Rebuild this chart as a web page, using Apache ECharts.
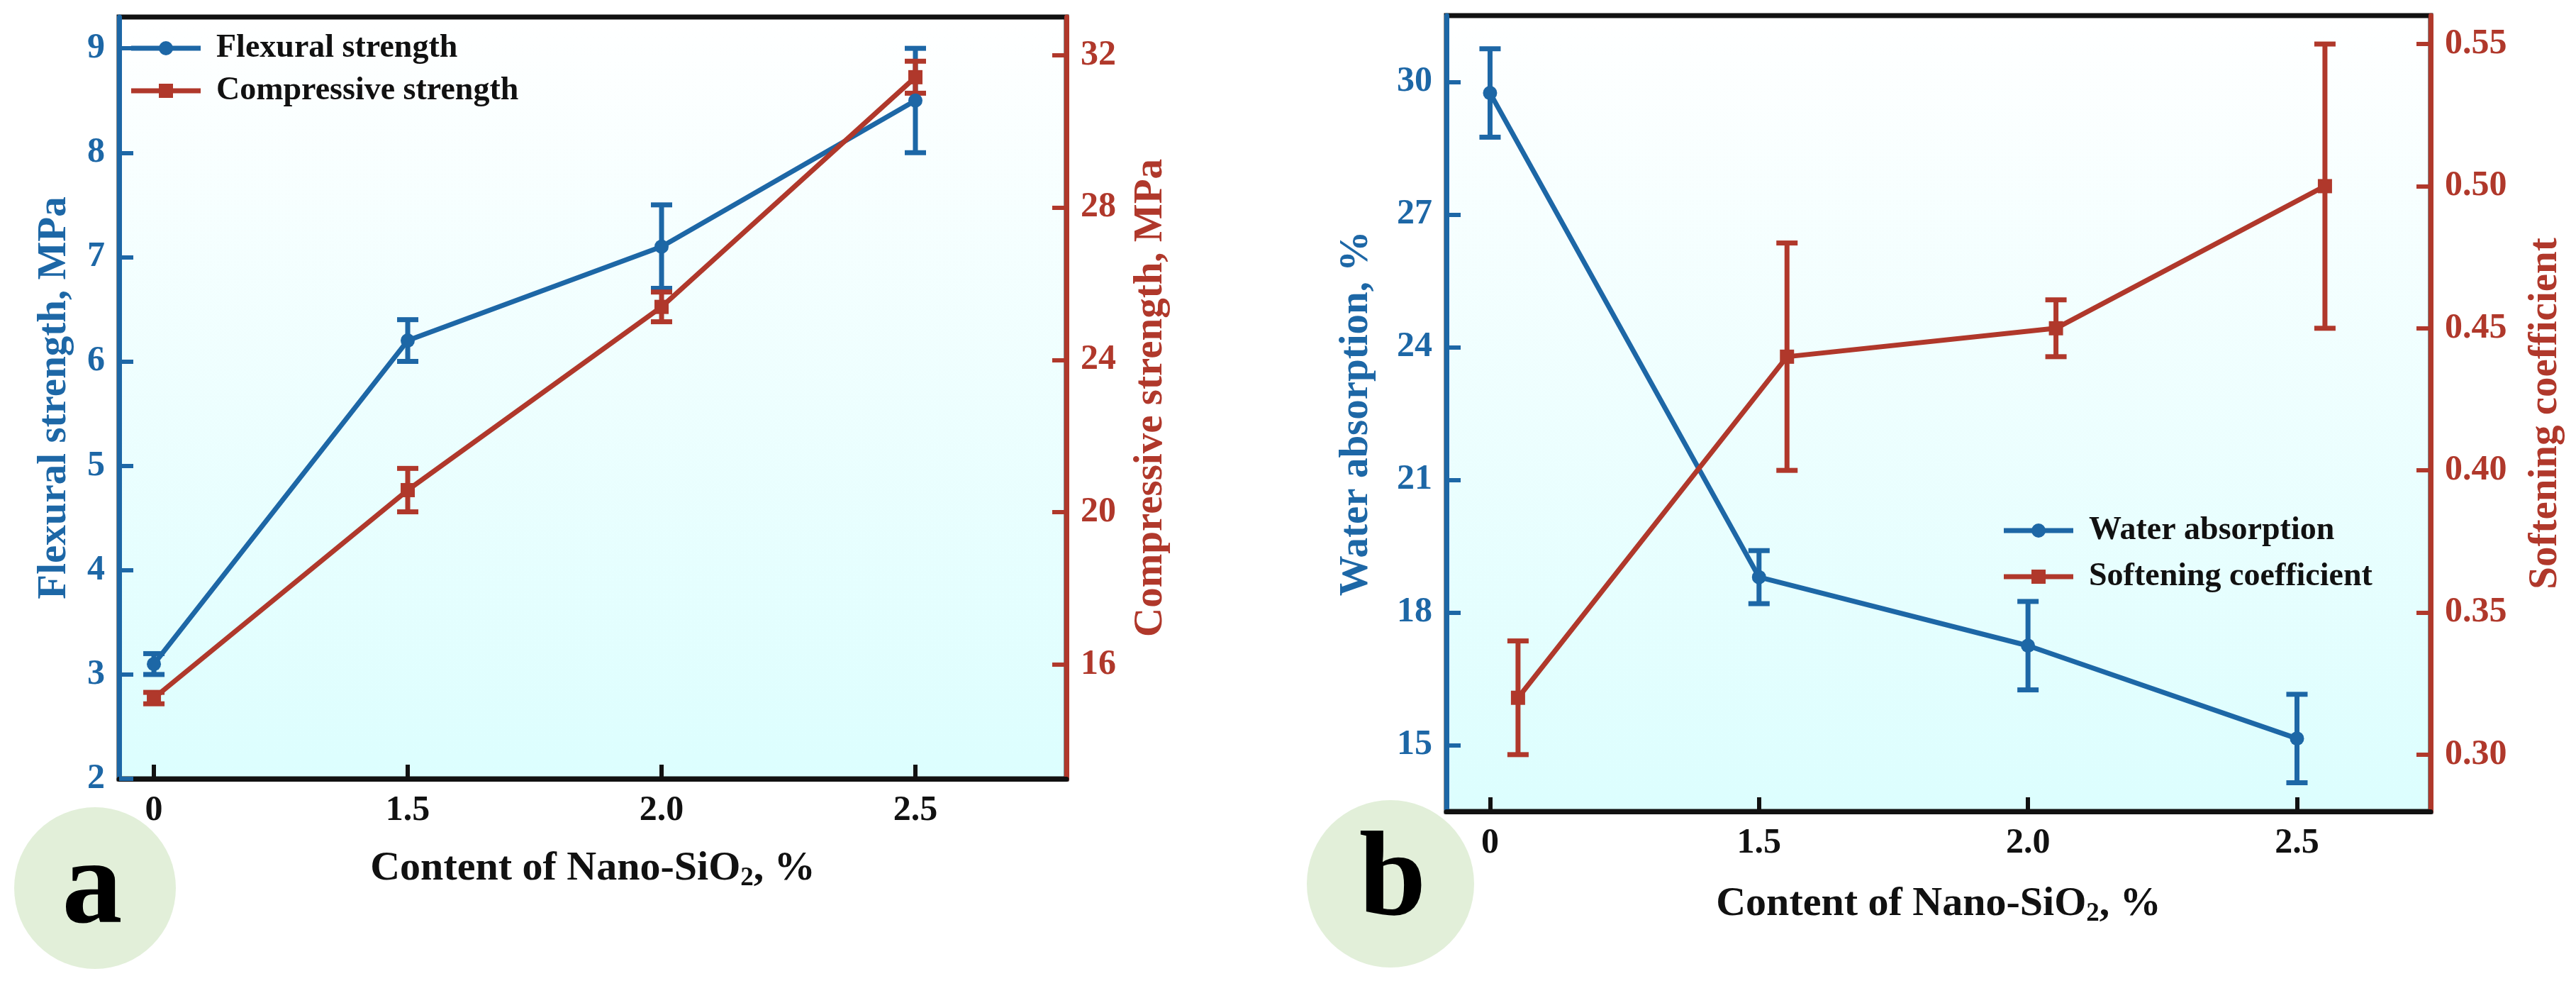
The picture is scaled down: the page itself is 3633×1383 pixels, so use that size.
<!DOCTYPE html>
<html>
<head>
<meta charset="utf-8">
<script src="https://cdn.jsdelivr.net/npm/echarts@6/dist/echarts.min.js"></script>
<style>
  html, body { margin: 0; padding: 0; background: #fff; }
  #main { width: 3633px; height: 1383px; }
</style>
</head>
<body>
<div id="main"></div>
<script>
// x categories (equally spaced on the plot)
const xLabels = ["0", "1.5", "2.0", "2.5"];

// panel a
const flexural = [3.1, 6.2, 7.1, 8.5];
const flexuralErr = [0.1, 0.2, 0.4, 0.5];
const compressive = [15.12, 20.58, 25.39, 31.42];
const compressiveErr = [0.15, 0.57, 0.39, 0.42];
const flexTicks = [2, 3, 4, 5, 6, 7, 8, 9];
const compTicks = [16, 20, 24, 28, 32];

// panel b
const waterAbs = [29.75, 18.8, 17.25, 15.15];
const waterAbsErr = [1.0, 0.6, 1.0, 1.0];
const softening = [0.32, 0.44, 0.45, 0.5];
const softeningErr = [0.02, 0.04, 0.01, 0.05];
const waterTicks = [15, 18, 21, 24, 27, 30];
const softTicks = [0.3, 0.35, 0.4, 0.45, 0.5, 0.55];
const softShift = 0.104; // softening points sit a little right of the category

const BLUE = "#1d67a6";
const RED = "#b0382b";
const FONT = "Liberation Serif";
const LW = 7;
const xIdx = [0, 1, 2, 3];

const chart = echarts.init(document.getElementById("main"));

function bgFill() {
  return new echarts.graphic.LinearGradient(0, 0, 0, 1, [
    { offset: 0, color: "#ffffff" },
    { offset: 1, color: "#dcfefe" }
  ]);
}

function xAxis(grid, min, max, gap) {
  return {
    gridIndex: grid,
    type: "value",
    min: min,
    max: max,
    name: "{t|Content of Nano-SiO}{s|2}{t|, %}",
    nameLocation: "middle",
    nameGap: gap,
    nameTextStyle: {
      rich: {
        t: { fontFamily: FONT, fontWeight: "bold", fontSize: 58, color: "#111" },
        s: { fontFamily: FONT, fontWeight: "bold", fontSize: 37, color: "#111", padding: [26, 0, 0, 0] }
      }
    },
    axisLine: { show: true, onZero: false, lineStyle: { color: "#111", width: LW } },
    axisTick: { show: true, inside: true, length: 20, customValues: xIdx, lineStyle: { color: "#111", width: 6 } },
    axisLabel: {
      customValues: xIdx,
      formatter: v => xLabels[Math.round(v)],
      margin: 20,
      fontFamily: FONT, fontWeight: "bold", fontSize: 50, color: "#111"
    },
    splitLine: { show: false }
  };
}

function yAxis(grid, pos, min, max, ticks, color, name, gap, fmt) {
  return {
    gridIndex: grid,
    type: "value",
    position: pos,
    min: min,
    max: max,
    name: name,
    nameLocation: "middle",
    nameGap: gap,
    nameTextStyle: { fontFamily: FONT, fontWeight: "bold", fontSize: 57, color: color },
    axisLine: { show: true, onZero: false, lineStyle: { color: color, width: LW } },
    axisTick: { show: true, inside: true, length: 20, customValues: ticks, lineStyle: { color: color, width: 6 } },
    axisLabel: {
      customValues: ticks,
      formatter: fmt || (v => String(v)),
      margin: 20,
      fontFamily: FONT, fontWeight: "bold", fontSize: 50, color: color
    },
    splitLine: { show: false }
  };
}

function lineSeries(name, xs, ys, color, symbol, xi, yi) {
  return {
    name: name,
    type: "line",
    xAxisIndex: xi,
    yAxisIndex: yi,
    data: ys.map((v, i) => [xs[i], v]),
    symbol: symbol,
    symbolSize: 20,
    itemStyle: { color: color },
    lineStyle: { color: color, width: LW },
    z: 3
  };
}

function errSeries(xs, ys, errs, color, xi, yi) {
  return {
    type: "custom",
    xAxisIndex: xi,
    yAxisIndex: yi,
    silent: true,
    z: 2,
    data: ys.map((v, i) => [xs[i], v - errs[i], v + errs[i]]),
    encode: { x: 0, y: [1, 2] },
    renderItem: function (params, api) {
      const x = api.value(0);
      const lo = api.coord([x, api.value(1)]);
      const hi = api.coord([x, api.value(2)]);
      const w = 15;
      const st = { stroke: color, lineWidth: LW };
      return {
        type: "group",
        children: [
          { type: "line", shape: { x1: lo[0], y1: lo[1], x2: hi[0], y2: hi[1] }, style: st },
          { type: "line", shape: { x1: hi[0] - w, y1: hi[1], x2: hi[0] + w, y2: hi[1] }, style: st },
          { type: "line", shape: { x1: lo[0] - w, y1: lo[1], x2: lo[0] + w, y2: lo[1] }, style: st }
        ]
      };
    }
  };
}

// legend drawn by hand: the built-in one keeps a thin icon line
function legendEntry(x, y, name, color, square) {
  const mx = x + 49;
  const marker = square
    ? { type: "rect", shape: { x: mx - 10, y: y - 10, width: 20, height: 20 }, style: { fill: color } }
    : { type: "circle", shape: { cx: mx, cy: y, r: 10 }, style: { fill: color } };
  return {
    type: "group",
    z: 5,
    children: [
      { type: "line", shape: { x1: x, y1: y, x2: x + 98, y2: y }, style: { stroke: color, lineWidth: LW } },
      marker,
      { type: "text", x: x + 120, y: y, style: { text: name, font: "bold 46px 'Liberation Serif'", fill: "#111", verticalAlign: "middle" } }
    ]
  };
}

const softX = xIdx.map(v => v + softShift);

const option = {
  animation: false,
  backgroundColor: "#ffffff",
  grid: [
    { left: 168, top: 24, width: 1336, height: 1074, show: true, borderColor: "#111", borderWidth: LW, backgroundColor: bgFill() },
    { left: 2040, top: 22, width: 1388, height: 1122, show: true, borderColor: "#111", borderWidth: LW, backgroundColor: bgFill() }
  ],
  xAxis: [
    xAxis(0, -0.137, 3.595, 96),
    xAxis(1, -0.162, 3.497, 100)
  ],
  yAxis: [
    yAxis(0, "left", 2, 9.3, flexTicks, BLUE, "Flexural strength, MPa", 62),
    yAxis(0, "right", 13, 33, compTicks, RED, "Compressive strength, MPa", 91),
    yAxis(1, "left", 13.5, 31.5, waterTicks, BLUE, "Water absorption, %", 98),
    yAxis(1, "right", 0.28, 0.56, softTicks, RED, "Softening coefficient", 134, v => v.toFixed(2))
  ],
  series: [
    errSeries(xIdx, flexural, flexuralErr, BLUE, 0, 0),
    lineSeries("Flexural strength", xIdx, flexural, BLUE, "circle", 0, 0),
    errSeries(xIdx, compressive, compressiveErr, RED, 0, 1),
    lineSeries("Compressive strength", xIdx, compressive, RED, "rect", 0, 1),
    errSeries(xIdx, waterAbs, waterAbsErr, BLUE, 1, 2),
    lineSeries("Water absorption", xIdx, waterAbs, BLUE, "circle", 1, 2),
    errSeries(softX, softening, softeningErr, RED, 1, 3),
    lineSeries("Softening coefficient", softX, softening, RED, "rect", 1, 3)
  ],
  graphic: [
    legendEntry(185, 68, "Flexural strength", BLUE, false),
    legendEntry(185, 128, "Compressive strength", RED, true),
    legendEntry(2826, 748, "Water absorption", BLUE, false),
    legendEntry(2826, 813, "Softening coefficient", RED, true),
    { type: "circle", shape: { cx: 134, cy: 1252, r: 114 }, style: { fill: "#e2efd9" }, z: 10 },
    { type: "text", x: 130, y: 1256, style: { text: "a", font: "bold 170px 'Liberation Serif'", fill: "#000", align: "center", verticalAlign: "middle" }, z: 11 },
    { type: "circle", shape: { cx: 1961, cy: 1246, r: 118 }, style: { fill: "#e2efd9" }, z: 10 },
    { type: "text", x: 1964, y: 1245, style: { text: "b", font: "bold 170px 'Liberation Serif'", fill: "#000", align: "center", verticalAlign: "middle" }, z: 11 }
  ]
};

chart.setOption(option);
</script>
</body>
</html>
